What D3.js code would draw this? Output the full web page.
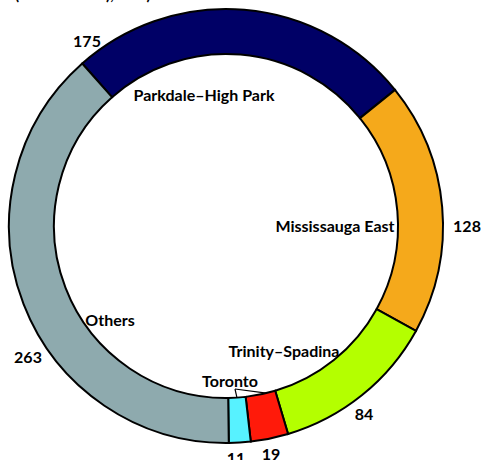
<!DOCTYPE html>
<html>
<head>
<meta charset="utf-8">
<script src="https://cdn.jsdelivr.net/npm/d3@7"></script>
<style>
  body { margin: 0; background: #fff; }
  text { font-family: Lato, "Open Sans", sans-serif; font-weight: bold; fill: #000; }
</style>
</head>
<body>
<div id="chart"></div>
<script>
// ridings and seat counts
var ridings = ["Parkdale–High Park", "Mississauga East", "Trinity–Spadina", "Toronto", "Toronto", "Others"];
var counts = [175, 128, 84, 19, 11, 263];
var colors = ["#000066", "#f5a91b", "#b4ff00", "#ff1a0a", "#57f2ff", "#8eaaae"];

var width = 481,
    height = 460;

var cx = 226, cy = 226,
    outerR = 217, innerR = 172;

// excel "first slice angle"
var firstAngle = -41.5 * Math.PI / 180;

var svg = d3.select("#chart")
    .append("svg")
    .attr("width", width)
    .attr("height", height);

// cut off title line at very top
svg.append("text")
    .attr("x", 15)
    .attr("y", 0)
    .style("font-size", "15px")
    .text("(Conservative), GTA)");

var table = ridings.map(function (d, i) {
    return {name: d, value: counts[i], color: colors[i]};
});

var pie = d3.pie()
    .sort(null)
    .value(function (d) { return d.value; })
    .startAngle(firstAngle)
    .endAngle(firstAngle + 2 * Math.PI);

var arc = d3.arc()
    .innerRadius(innerR)
    .outerRadius(outerR);

var g = svg.append("g")
    .attr("transform", "translate(" + cx + "," + cy + ")");

var slices = pie(table);

g.selectAll("path")
    .data(slices)
    .enter()
    .append("path")
    .attr("d", arc)
    .style("fill", function (d) { return d.data.color; })
    .style("stroke", "#000")
    .style("stroke-width", 2);

// label spots (relative to page), one per slice: name label then value label
var nameSpots = [[204, 101], [335, 232], [284, 357], [230, 387], null, [110, 326]];
var valueSpots = [[87, 47], [467, 232], [364, 420], [271, 460], [236, 464], [28, 363]];

svg.selectAll("text.name")
    .data(slices.filter(function (d, i) { return nameSpots[i]; }))
    .enter()
    .append("text")
    .attr("class", "name")
    .attr("text-anchor", "middle")
    .style("font-size", "16px")
    .attr("x", function (d) { return nameSpots[d.index][0]; })
    .attr("y", function (d) { return nameSpots[d.index][1]; })
    .text(function (d) { return d.data.name; });

svg.selectAll("text.value")
    .data(slices)
    .enter()
    .append("text")
    .attr("class", "value")
    .attr("text-anchor", "middle")
    .style("font-size", "16px")
    .attr("x", function (d) { return valueSpots[d.index][0]; })
    .attr("y", function (d) { return valueSpots[d.index][1]; })
    .text(function (d) { return d.value; });

// leader lines from the shared "Toronto" label to the two small slices
var from = [235 - cx, 389 - cy];
slices.filter(function (d) { return d.data.name == "Toronto"; }).forEach(function (d) {
    var a = (d.startAngle + d.endAngle) / 2;
    if (d.value == 19) a = d.startAngle + (d.endAngle - d.startAngle) * 0.3;
    g.append("line")
        .attr("x1", from[0])
        .attr("y1", from[1])
        .attr("x2", Math.sin(a) * innerR)
        .attr("y2", -Math.cos(a) * innerR)
        .style("stroke", "#000")
        .style("stroke-width", 1.2);
});
</script>
</body>
</html>
